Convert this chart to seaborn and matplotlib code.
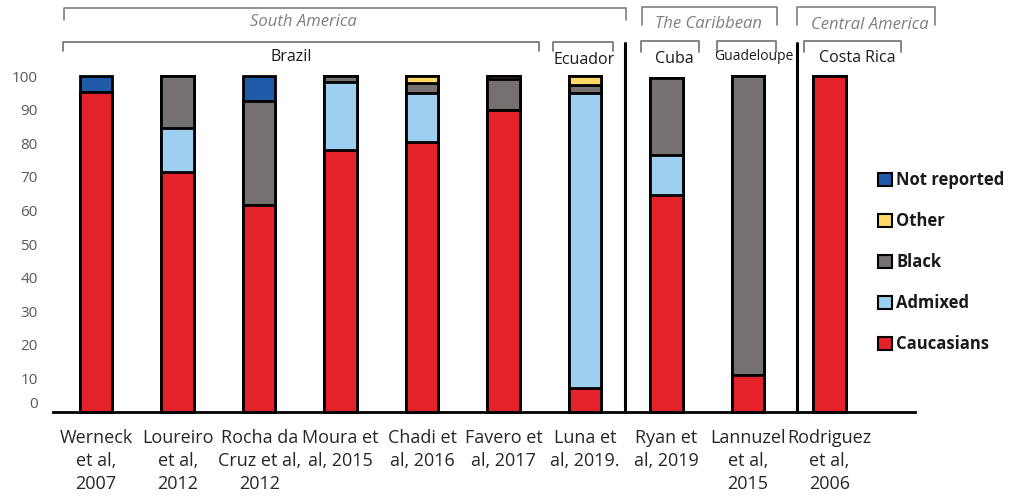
import numpy as np
import pandas as pd
import matplotlib
matplotlib.use("Agg")
import matplotlib.pyplot as plt
import matplotlib.transforms as mtransforms
from matplotlib.patches import Patch
import seaborn as sns

sns.set_style("white")
plt.rcParams['font.family'] = ['Open Sans', 'DejaVu Sans']

# Data (percent of patients by ethnicity)
studies = ["Werneck\net al,\n2007", "Loureiro\net al,\n2012", "Rocha da\nCruz et al,\n2012",
           "Moura et\nal, 2015", "Chadi et\nal, 2016", "Favero et\nal, 2017", "Luna et\nal, 2019.",
           "Ryan et\nal, 2019", "Lannuzel\net al,\n2015", "Rodriguez\net al,\n2006"]
caucasians = [95.3, 71.5, 61.5, 78.0, 80.4, 90.0, 7.0, 64.5, 11.0, 100.0]
admixed = [0.0, 13.0, 0.0, 20.3, 14.4, 0.0, 87.8, 12.0, 0.0, 0.0]
black = [0.0, 15.5, 31.0, 1.7, 3.0, 9.2, 2.5, 23.0, 89.0, 0.0]
other = [0.0, 0.0, 0.0, 0.0, 2.2, 0.8, 2.7, 0.0, 0.0, 0.0]
not_reported = [4.7, 0.0, 7.5, 0.0, 0.0, 0.0, 0.0, 0.0, 0.0, 0.0]

categories = ["Caucasians", "Admixed", "Black", "Other", "Not reported"]
colors = ["#E32229", "#9DD0F0", "#767171", "#FFD966", "#1F5BA8"]

df = pd.DataFrame({"study": studies, "Caucasians": caucasians, "Admixed": admixed,
                   "Black": black, "Other": other, "Not reported": not_reported})

fig = plt.figure(figsize=(10.14, 4.98), dpi=100)
# axes: baseline at y=412px, 100% at y=76px
ax = fig.add_axes([53 / 1014, 86 / 498, 862 / 1014, 336 / 498])

# stacked bars: draw cumulative totals from the top down
cum = df[categories].cumsum(axis=1)
for cat, col in reversed(list(zip(categories, colors))):
    sns.barplot(x=df["study"], y=cum[cat], color=col, width=0.4, saturation=1,
                edgecolor="black", linewidth=2, errorbar=None, ax=ax, clip_on=False,
                zorder=3)

ax.set_xlim(-0.53, 10.05)
ax.set_ylim(0, 100)
ax.set_yticks(np.arange(0, 101, 10))
ax.set_xlabel("")
ax.set_ylabel("")
for s in ["left", "right", "top"]:
    ax.spines[s].set_visible(False)
ax.spines["bottom"].set_linewidth(2)
ax.spines["bottom"].set_color("black")
ax.spines["bottom"].set_zorder(5)
ax.tick_params(axis="both", length=0)
ax.tick_params(axis="y", labelsize=11, labelcolor="#595959", pad=11)
ax.tick_params(axis="x", labelsize=13, labelcolor="#262626", pad=12)
ax.set_xticks(range(len(studies)))
ax.set_xticklabels(studies, linespacing=1.38)

# the "0" label sits a little higher in the original
lbl0 = ax.get_yticklabels()[0]
lbl0.set_transform(lbl0.get_transform() + mtransforms.ScaledTranslation(0, 0.1, fig.dpi_scale_trans))

# region / country brackets above the bars
trans = mtransforms.blended_transform_factory(ax.transData, ax.transAxes)


def py(ypix):
    return (412 - ypix) / 336


def bracket(x0, x1, ytop, ybot, color):
    ax.plot([x0, x0, x1, x1], [py(ybot), py(ytop), py(ytop), py(ybot)], transform=trans,
            color=color, lw=1.2, clip_on=False)


bracket(-0.40, 6.50, 8, 20, "#7F7F7F")
bracket(6.70, 8.36, 7, 25, "#7F7F7F")
bracket(8.60, 10.30, 7, 25, "#7F7F7F")
bracket(-0.41, 5.43, 42, 51, "#6F6F6F")
bracket(5.61, 6.34, 42, 51, "#6F6F6F")
bracket(6.69, 7.40, 41, 52, "#6F6F6F")
bracket(7.62, 8.34, 41, 52, "#6F6F6F")
bracket(8.69, 9.88, 41, 52, "#6F6F6F")

region_style = dict(transform=trans, ha="center", va="center", fontsize=12,
                    style="italic", color="#7F7F7F")
ax.text(2.54, py(22), "South America", **region_style)
ax.text(7.52, py(24), "The Caribbean", **region_style)
ax.text(9.50, py(25), "Central America", **region_style)

country_style = dict(transform=trans, ha="center", va="center", fontsize=11.5, color="#1A1A1A")
ax.text(2.40, py(57), "Brazil", **country_style)
ax.text(5.99, py(60), "Ecuador", **country_style)
ax.text(7.09, py(59), "Cuba", **country_style)
ax.text(8.07, py(57), "Guadeloupe", transform=trans, ha="center", va="center",
        fontsize=10, color="#1A1A1A")
ax.text(9.34, py(58), "Costa Rica", **country_style)

# vertical separators between regions
for xs in [6.49, 8.60]:
    ax.plot([xs, xs], [0, py(43)], transform=trans, color="black", lw=2.2, clip_on=False)

# legend
handles = [Patch(facecolor=c, edgecolor="black", linewidth=1.5, label=l)
           for l, c in zip(categories, colors)][::-1]
leg = fig.legend(handles=handles, loc="center left", bbox_to_anchor=(878 / 1014, 236 / 498),
                 frameon=False, borderpad=0, borderaxespad=0, handlelength=0.85,
                 handleheight=0.85, handletextpad=0.25, labelspacing=1.38,
                 prop={"weight": "bold", "size": 12})
for t in leg.get_texts():
    t.set_color("#1A1A1A")

fig.savefig("out.png", dpi=100)
